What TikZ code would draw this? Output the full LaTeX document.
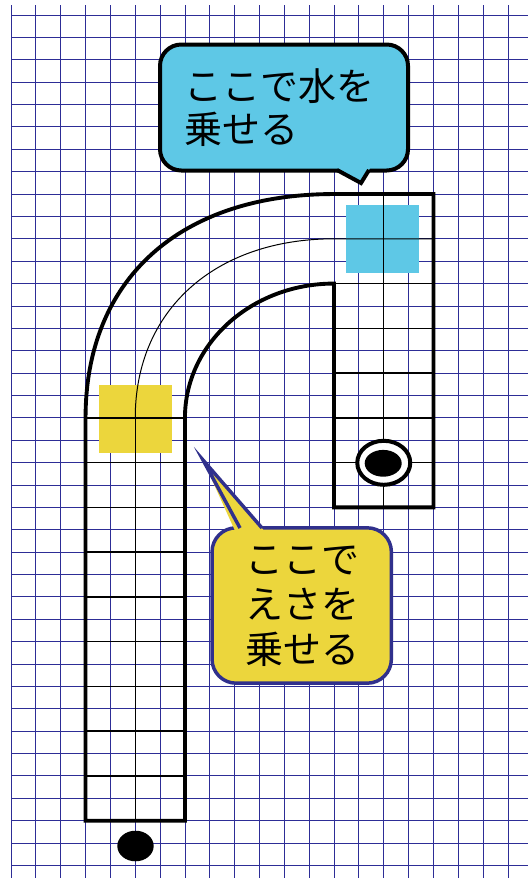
\documentclass[tikz,border=0pt]{standalone}
\usepackage{fontspec}
\newfontfamily\jp{Noto Sans CJK JP}
\definecolor{gridblue}{RGB}{45,45,150}
\definecolor{cyanc}{RGB}{94,200,230}
\definecolor{yellowc}{RGB}{236,214,60}
\definecolor{bubbleblue}{RGB}{48,48,140}
\begin{document}
\begin{tikzpicture}[x=0.75pt,y=-0.75pt,
  gridline/.style={draw=gridblue,line width=0.65pt},
  innerline/.style={draw=black,line width=1.1pt},
  centercurve/.style={draw=black,line width=0.75pt},
  trackline/.style={draw=black,line width=2.9pt,line join=miter},
  jtext/.style={font=\jp\fontsize{28.5pt}{34pt}\selectfont,inner sep=0pt,text=black}]
\useasboundingbox (0,0) rectangle (528,878);
\fill[white] (0,0) rectangle (528,878);
% grid
\foreach \j in {0,...,20} \draw[gridline] ({11+24.85*\j},5) -- ({11+24.85*\j},878);
\foreach \k in {0,...,38} \draw[gridline] (11,{15+22.38*\k}) -- (528,{15+22.38*\k});
% coloured squares
\fill[yellowc] (99,385) rectangle (172,453);
\fill[cyanc] (346,205) rectangle (419,273);
% black inner grid of the track
\foreach \y in {417.84,462.6,507.36,552.12,596.88,641.64,686.4,731.16,775.92}
  \draw[innerline] (85.55,\y) -- (184.95,\y);
\draw[innerline] (135.25,417.84) -- (135.25,820.68);
\foreach \y in {283.56,328.32,373.08,417.84,462.6}
  \draw[innerline] (334.05,\y) -- (433.45,\y);
\draw[innerline] (383.75,194.04) -- (383.75,507.36);
\draw[centercurve] (135.25,417.84) .. controls (135.25,310.4) and (214.8,238.8) .. (334.05,238.8) -- (433.45,238.8);
% track outline
\draw[trackline] (85.55,820.68) -- (85.55,417.84)
  .. controls (85.55,279.08) and (179.98,194.04) .. (334.05,194.04)
  -- (433.45,194.04) -- (433.45,507.36) -- (334.05,507.36) -- (334.05,283.56)
  .. controls (251.75,283.56) and (184.95,343.7) .. (184.95,417.84)
  -- (184.95,820.68) -- cycle;
% circles
\fill[black] (135.5,846) ellipse [x radius=18.2, y radius=15.3];
\draw[black,line width=3pt,fill=white] (383.75,462.8) ellipse [x radius=26.5, y radius=22];
\fill[black] (383.2,463.3) ellipse [x radius=18.5, y radius=13.4];
% cyan bubble
\node[draw=black,fill=cyanc,line width=3pt,rounded corners=16pt,minimum width=186pt,minimum height=94.5pt,inner sep=0pt] (bubblewater) at (284,107.5) {};
\fill[cyanc] (333,165) -- (361,183) -- (372,165) -- cycle;
\draw[black,line width=3pt,line join=miter] (337,170) -- (361,183) -- (369,170);
\node[jtext,anchor=west] (w1) at (184,86) {ここで水を};
\node[jtext,anchor=west] (w2) at (184,129) {乗せる};
% yellow bubble
\node[draw=bubbleblue,fill=yellowc,line width=2.6pt,rounded corners=18pt,minimum width=134.5pt,minimum height=116.5pt,inner sep=0pt] (bubblefood) at (301.7,605.5) {};
\fill[yellowc] (236,533) -- (203,460) -- (266,533) -- cycle;
\draw[bubbleblue,line width=2.6pt,line join=miter] (240,528) -- (203,460) -- (262,528);
\node[jtext] (f1) at (302,560) {ここで};
\node[jtext] (f2) at (302,604) {えさを};
\node[jtext] (f3) at (302,649) {乗せる};
\end{tikzpicture}
\end{document}
